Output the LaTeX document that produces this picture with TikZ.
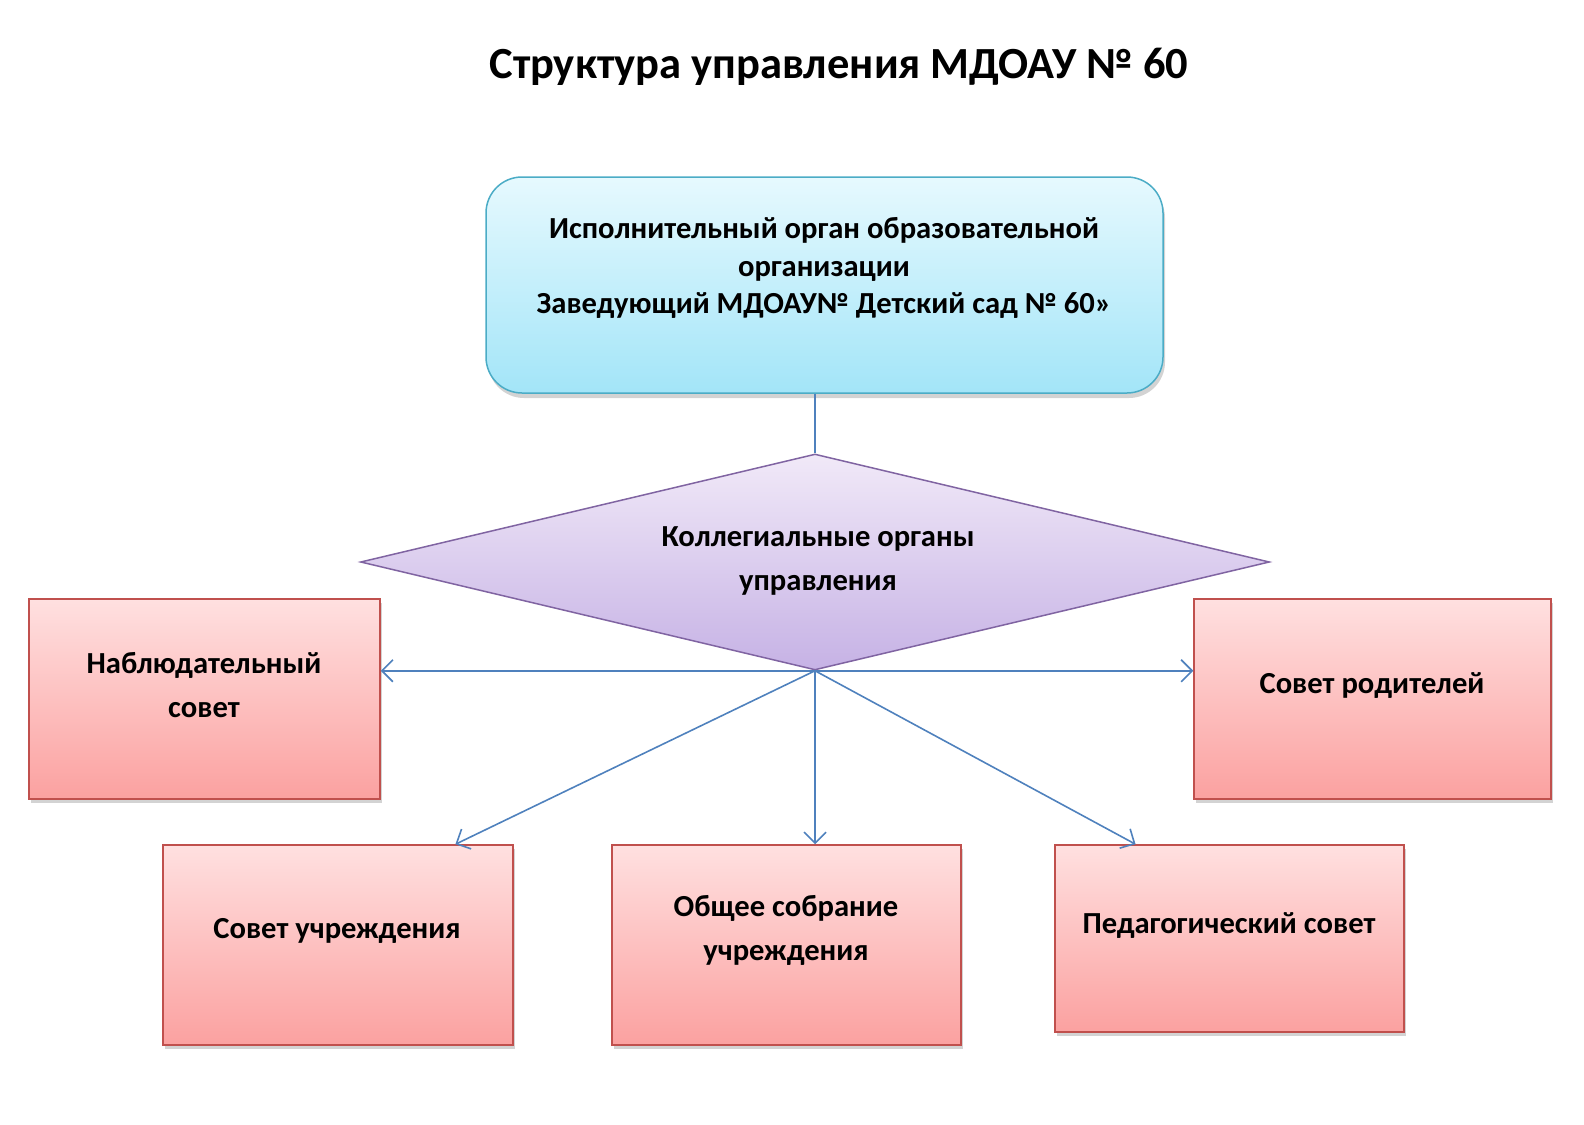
\documentclass[tikz,border=0pt]{standalone}
\usepackage{fontspec}
\setmainfont{Carlito}
\usetikzlibrary{shapes.geometric,arrows.meta,shadows,calc}
\definecolor{conn}{HTML}{4F81BD}
\definecolor{cyanbd}{HTML}{4BACC6}
\definecolor{cyantop}{HTML}{E6F9FE}
\definecolor{cyanbot}{HTML}{A3E5F8}
\definecolor{violbd}{HTML}{8064A2}
\definecolor{violtop}{HTML}{F1E9F8}
\definecolor{violbot}{HTML}{C6B2E5}
\definecolor{redbd}{HTML}{C0504D}
\definecolor{redtop}{HTML}{FFE0E0}
\definecolor{redbot}{HTML}{FBA1A0}
\tikzset{
  redbox/.style={draw=redbd, line width=1.5pt, top color=redtop, bottom color=redbot, inner sep=0pt,
    drop shadow={shadow xshift=2pt, shadow yshift=-4pt, opacity=0.35}},
  lbl/.style={font=\bfseries\fontsize{30.6}{43.4}\selectfont, align=center, inner sep=0pt},
  link/.style={draw=conn, line width=1.6pt, -{Straight Barb[length=11pt,width=22pt,line width=1.6pt]}},
}
\begin{document}
\begin{tikzpicture}[x=1pt,y=-1pt]
\useasboundingbox (0,0) rectangle (1584,1124);
\node[font=\bfseries\fontsize{44.5}{50}\selectfont, inner sep=0pt] (title) at (839,67) {Структура управления МДОАУ № 60};
% top box
\node[draw=cyanbd, line width=1.5pt, rounded corners=36pt, top color=cyantop, bottom color=cyanbot,
  minimum width=677pt, minimum height=216pt, inner sep=0pt,
  drop shadow={shadow xshift=2pt, shadow yshift=-5pt, opacity=0.35}] (top) at (824.5,285) {};
\node[font=\bfseries\fontsize{30.6}{37.4}\selectfont, align=center, inner sep=0pt] (toptext) at (824,268)
  {Исполнительный орган образовательной\\организации\\Заведующий МДОАУ№ Детский сад № 60»};
% diamond
\node[diamond, draw=violbd, line width=1.5pt, top color=violtop, bottom color=violbot,
  minimum width=909pt, minimum height=216pt, inner sep=0pt, aspect=4.2] (dia) at (815,562) {};
\node[lbl, font=\bfseries\fontsize{30.6}{44.4}\selectfont] (diatext) at (818,561) {Коллегиальные органы\\управления};
% red boxes
\node[redbox, minimum width=351pt, minimum height=200pt] (L) at (204.5,699) {};
\node[redbox, minimum width=357pt, minimum height=200pt] (R) at (1372.5,699) {};
\node[redbox, minimum width=350pt, minimum height=200pt] (B1) at (338,945) {};
\node[redbox, minimum width=349pt, minimum height=200pt] (B2) at (786.5,945) {};
\node[redbox, minimum width=349pt, minimum height=187pt] (B3) at (1229.5,938.5) {};
\node[lbl] (Ltext) at (204,685) {Наблюдательный\\совет};
\node[lbl] (Rtext) at (1372,685.5) {Совет родителей};
\node[lbl] (B1text) at (337,931) {Совет учреждения};
\node[lbl] (B2text) at (786,930.5) {Общее собрание\\учреждения};
\node[lbl] (B3text) at (1229,925.5) {Педагогический совет};
% connectors
\draw[conn, line width=1.6pt] (dia.north |- top.south) -- (dia.north);
\draw[link] (dia.south) -- (dia.south -| L.east);
\draw[link] (dia.south) -- (dia.south -| R.west);
\draw[link] (dia.south) -- (dia.south |- B2.north);
\draw[link] (dia.south) -- ($(B1.north west)!0.834!(B1.north east)$);
\draw[link] (dia.south) -- ($(B3.north west)!0.232!(B3.north east)$);
\end{tikzpicture}
\end{document}
